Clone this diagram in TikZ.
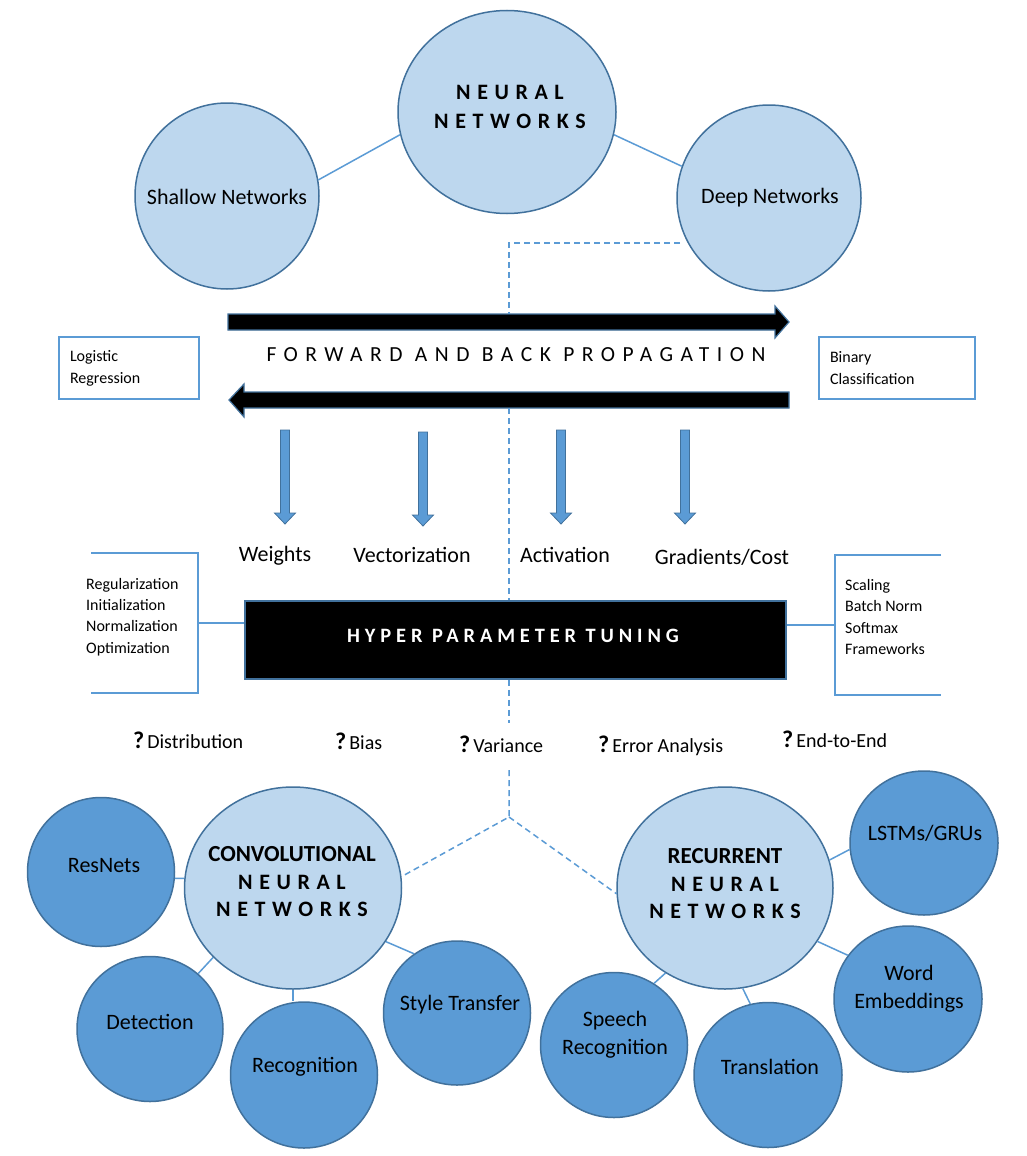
\documentclass[tikz,border=0pt]{standalone}
\usepackage{fontspec}
\setmainfont{Carlito}
\usetikzlibrary{shapes.geometric}
\definecolor{lightc}{HTML}{BDD7EE}
\definecolor{darkc}{HTML}{5B9BD5}
\definecolor{edgec}{HTML}{41719C}
\definecolor{linec}{HTML}{5B9BD5}
\newcommand{\fs}[2]{\fontsize{#1}{#2}\selectfont}
\newcommand{\spc}[1]{\addfontfeatures{LetterSpace=#1}}
\newcommand{\qm}{{\fs{24}{24}\bfseries ?}\hspace{3pt}}
\begin{document}
\begin{tikzpicture}[x=1pt,y=-1pt,
  lightcirc/.style={ellipse,draw=edgec,line width=1.5pt,fill=lightc,inner sep=0pt},
  darkcirc/.style={ellipse,draw=edgec,line width=1.5pt,fill=darkc,inner sep=0pt},
  conn/.style={draw=linec,line width=1.5pt},
  dashconn/.style={draw=linec,line width=1.5pt,dash pattern=on 6pt off 4pt},
  lbl/.style={font=\fs{22}{28},inner sep=0pt,align=center},
  capt/.style={font=\fs{22}{28}\bfseries,inner sep=0pt,align=center},
  side/.style={font=\fs{16}{21.3},inner sep=0pt,align=left},
  qtext/.style={font=\fs{20}{24},inner sep=0pt,anchor=base west},
  bigarrow/.style={fill=black,draw=edgec,line width=1.2pt},
  smallarrow/.style={fill=darkc,draw=edgec,line width=0.8pt},
  framebox/.style={draw=linec,line width=1.5pt}
]
\fill[white] (0,0) rectangle (1026,1156);
\useasboundingbox (0,0) rectangle (1026,1156);

% ---------- top circles ----------
\node[lightcirc,minimum width=218pt,minimum height=203pt] (nn) at (507,112) {};
\node[lightcirc,minimum width=184pt,minimum height=186pt] (shallow) at (227,196) {};
\node[lightcirc,minimum width=184pt,minimum height=186pt] (deep) at (769,198) {};
\node[capt,font=\fs{22}{28.5}\bfseries] (nnt) at (510,107) {{\spc{30}NEURAL}\\{\spc{30}NETWORKS}};
\node[lbl] (shallowt) at (227,197) {Shallow Networks};
\node[lbl] (deept) at (770,198) {Deep Networks};
\draw[conn] (shallow.10) -- (nn.192);
\draw[conn] (nn.348) -- (deep.160);

% ---------- dashed spine ----------
\coordinate (dstart) at (680,243);
\coordinate (dcorner) at (509,243);
\coordinate (fwdtop) at (509,314);
\coordinate (backbot) at (509,408);
\coordinate (varup) at (509,723);
\coordinate (vardown) at (509,770);
\coordinate (jn) at (509,817);

% ---------- propagation arrows ----------
\draw[bigarrow] (228,314) -- (775,314) -- (775,306) -- (789,322) -- (775,338) -- (775,330) -- (228,330) -- cycle;
\draw[bigarrow] (789,392) -- (244,392) -- (244,384) -- (229,400) -- (244,417) -- (244,408) -- (789,408) -- cycle;
\node[font=\fs{21.5}{24}\spc{35},inner sep=0pt] (fbp) at (516,355) {FORWARD AND BACK PROPAGATION};

\node[framebox,minimum width=140pt,minimum height=62pt,inner xsep=11pt,inner ysep=0pt,text width=118pt,align=left,font=\fs{16}{22}] (logb) at (129,368) {Logistic\\Regression};
\node[framebox,minimum width=156pt,minimum height=62pt,inner xsep=11pt,inner ysep=0pt,text width=134pt,align=left,font=\fs{16}{22}] (binb) at (897,368) {Binary\\Classification};

% ---------- small down arrows ----------
\foreach \cx/\ty in {285/430,423/432,561/430,685/430} {
  \draw[smallarrow] (\cx-4.5,\ty) -- (\cx+4.5,\ty) -- (\cx+4.5,\ty+83) -- (\cx+10.5,\ty+83) -- (\cx,\ty+94) -- (\cx-10.5,\ty+83) -- (\cx-4.5,\ty+83) -- cycle;
}
\node[lbl] (wts) at (275,556) {Weights};
\node[lbl] (vec) at (412,555) {Vectorization};
\node[lbl] (act) at (565,555) {Activation};
\node[lbl] (grad) at (722,557) {Gradients/Cost};

% ---------- hyper parameter tuning ----------
\node[draw=edgec,line width=1.5pt,fill=black,minimum width=541pt,minimum height=78pt,inner sep=0pt] (hp) at (515.5,640) {};
\node[font=\fs{20.4}{24}\bfseries\spc{24},text=white,inner sep=0pt] (hpt) at (513,636) {HYPER PARAMETER TUNING};

\draw[framebox] (91,553) -- (198,553) -- (198,693) -- (91,693);
\coordinate (lbr) at (198,623);
\draw[conn] (lbr) -- (hp.west |- lbr);
\draw[framebox] (941,555) -- (835,555) -- (835,695) -- (941,695);
\coordinate (rbr) at (835,625);
\draw[conn] (hp.east |- rbr) -- (rbr);
\node[side,anchor=west] (lefttxt) at (86,617) {Regularization\\Initialization\\Normalization\\Optimization};
\node[side,anchor=west] (righttxt) at (845,617) {Scaling\\Batch Norm\\Softmax\\Frameworks};

% ---------- questions ----------
\node[qtext] (q1) at (133,748) {\qm Distribution};
\node[qtext] (q2) at (335,749) {\qm Bias};
\node[qtext] (q3) at (459,752) {\qm Variance};
\node[qtext] (q4) at (598,752) {\qm Error Analysis};
\node[qtext] (q5) at (782,747) {\qm End-to-End};

% ---------- bottom circles ----------
\node[lightcirc,minimum width=217pt,minimum height=202pt] (cnn) at (293,888) {};
\node[lightcirc,minimum width=216pt,minimum height=202pt] (rnn) at (725,888) {};
\node[darkcirc,minimum width=147pt,minimum height=149pt] (resnets) at (101,872) {};
\node[darkcirc,minimum width=146pt,minimum height=145pt] (detection) at (150,1029) {};
\node[darkcirc,minimum width=147pt,minimum height=146pt] (recognition) at (304,1075) {};
\node[darkcirc,minimum width=147pt,minimum height=144pt] (style) at (457,1013) {};
\node[darkcirc,minimum width=148pt,minimum height=144pt] (lstm) at (924,843) {};
\node[darkcirc,minimum width=148pt,minimum height=146pt] (word) at (908,999) {};
\node[darkcirc,minimum width=148pt,minimum height=145pt] (translation) at (768,1075) {};
\node[darkcirc,minimum width=147pt,minimum height=145pt] (speech) at (614,1045) {};

\node[capt,font=\fs{22}{27.5}\bfseries] (cnnt) at (292,882) {{\fs{23}{27.5}CONVOLUTIONAL}\\{\spc{30}NEURAL}\\{\spc{30}NETWORKS}};
\node[capt,font=\fs{22}{27.5}\bfseries] (rnnt) at (725,884) {{\fs{23}{27.5}RECURRENT}\\{\spc{30}NEURAL}\\{\spc{30}NETWORKS}};
\node[lbl] (resnetst) at (104,866) {ResNets};
\node[lbl] (detectiont) at (150,1022) {Detection};
\node[lbl] (recognitiont) at (305,1067) {Recognition};
\node[lbl] (stylet) at (460,1005) {Style Transfer};
\node[lbl] (lstmt) at (925,833) {LSTMs/GRUs};
\node[lbl] (wordt) at (909,989) {Word\\Embeddings};
\node[lbl] (translationt) at (770,1067) {Translation};
\node[lbl] (speecht) at (615,1035) {Speech\\Recognition};

\draw[conn] (resnets.-5) -- (cnn.175);
\draw[conn] (detection.49) -- (cnn.221);
\draw[conn] (cnn.south) -- (cnn.south |- recognition.north);
\draw[conn] (cnn.-30) -- (style.126);
\draw[conn] (rnn.15) -- (lstm.185);
\draw[conn] (rnn.-30) -- (word.144);
\draw[conn] (rnn.-80) -- (translation.104);
\draw[conn] (rnn.235) -- (speech.57);

% dashed connectors
\draw[dashconn] (dstart) -- (dcorner) -- (fwdtop);
\draw[dashconn] (backbot) -- (backbot |- hp.north);
\draw[dashconn] (backbot |- hp.south) -- (varup);
\draw[dashconn] (vardown) -- (jn) -- (cnn.6);
\draw[dashconn] (jn) -- (rnn.183);
\end{tikzpicture}
\end{document}
